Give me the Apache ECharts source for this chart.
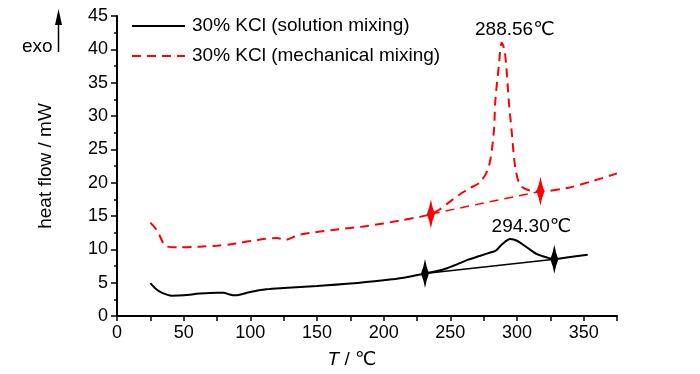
<!DOCTYPE html>
<html>
<head>
<meta charset="utf-8">
<script src="https://cdn.jsdelivr.net/npm/echarts@6/dist/echarts.min.js"></script>
<style>html,body{margin:0;padding:0;background:#fff}#c{width:700px;height:374px}</style>
</head>
<body>
<div id="c"></div>
<script>
// ---- data ----
const seriesNames = ['30% KCl (solution mixing)', '30% KCl (mechanical mixing)'];

const tempSolution = [25, 29, 33.5, 41, 50, 62, 75, 80, 84, 88.6, 92, 100, 112, 125, 150, 175, 200, 215, 231, 240, 247.5, 255, 262.5, 272.5, 280, 284, 289, 295, 300, 307.5, 315, 322.5, 328, 340, 353];
const heatSolution = [4.92, 4.1, 3.5, 3.05, 3.1, 3.36, 3.5, 3.5, 3.26, 3.1, 3.2, 3.6, 4.0, 4.2, 4.5, 4.87, 5.37, 5.75, 6.37, 6.75, 7.17, 7.75, 8.38, 9.03, 9.53, 9.78, 10.79, 11.54, 11.29, 10.28, 9.28, 8.78, 8.53, 8.85, 9.18];

const tempMech = [25, 29.8, 37.3, 47, 62, 75, 87, 90, 105, 120, 126, 137, 162, 187.5, 212, 227.5, 235.4, 242.5, 250, 257.5, 265, 272.5, 278.7, 282.5, 283.8, 286.3, 288.56, 290.5, 292, 293.8, 296.2, 298.7, 302.5, 310, 317.6, 337.6, 357.7, 375];
const heatMech = [14.0, 12.9, 10.43, 10.3, 10.4, 10.55, 10.8, 10.9, 11.4, 11.7, 11.4, 12.2, 12.9, 13.5, 14.3, 14.9, 15.3, 16.05, 17.2, 18.3, 19.2, 20.1, 22.3, 27.3, 32.4, 37.4, 41.0, 40.0, 37.4, 32.4, 27.3, 22.3, 19.6, 18.8, 18.7, 19.2, 20.3, 21.4];

// baseline / onset markers
const solutionMarkerT = [231, 328];
const solutionMarkerV = [6.37, 8.53];
const mechMarkerT = [235.4, 317.6];
const mechMarkerV = [15.3, 18.7];

// peak annotations
const peakLabels = ['288.56\u2103', '294.30\u2103'];
const peakT = [288.56, 295];
const peakV = [41.0, 11.54];

const xTicks = [0, 50, 100, 150, 200, 250, 300, 350];

// ---- build ----
const FONT = "'Liberation Sans', Arial, 'DejaVu Sans', sans-serif";
const TICK = 18, TXT = 19;
const zip = (a, b) => a.map((v, i) => [v, b[i]]);
const spindle = 'path://M5,0 L7,10 L10,20 L7,30 L5,40 L3,30 L0,20 L3,10 Z';
const labelOffsets = [[13, 0], [21, 0]];

const chart = echarts.init(document.getElementById('c'), null, {renderer: 'canvas'});
chart.setOption({
  animation: false,
  backgroundColor: '#fff',
  grid: {left: 117, right: 83, top: 16, bottom: 58, containLabel: false},
  legend: {
    data: seriesNames,
    orient: 'vertical',
    left: 131, top: 16,
    padding: 0,
    itemWidth: 53, itemHeight: 14, itemGap: 10,
    itemStyle: {opacity: 0},
    textStyle: {fontFamily: FONT, fontSize: TXT, color: '#000', lineHeight: 20, padding: [0, 0, 0, 2]},
    selectedMode: false
  },
  xAxis: {
    type: 'value', min: 0, max: 375, interval: 25,
    name: '{i|T} / \u2103',
    nameLocation: 'middle', nameGap: 34,
    nameTextStyle: {fontFamily: FONT, fontSize: TXT, color: '#000', padding: [0, 30, 0, 0],
      rich: {i: {fontFamily: FONT, fontSize: TXT, fontStyle: 'italic', color: '#000'}}},
    axisLine: {lineStyle: {color: '#000', width: 2}},
    axisTick: {length: 5, lineStyle: {color: '#000', width: 1.5}},
    axisLabel: {fontFamily: FONT, fontSize: TICK, color: '#000', margin: 8,
      formatter: v => xTicks.indexOf(v) >= 0 ? String(v) : ''},
    splitLine: {show: false}
  },
  yAxis: {
    type: 'value', min: 0, max: 45, interval: 5,
    name: 'heat flow / mW',
    nameLocation: 'middle', nameGap: 62,
    nameTextStyle: {fontFamily: FONT, fontSize: TXT, color: '#000'},
    axisLine: {show: true, lineStyle: {color: '#000', width: 2}},
    axisTick: {show: true, length: 6, lineStyle: {color: '#000', width: 1.5}},
    minorTick: {show: true, splitNumber: 2, length: 3, lineStyle: {color: '#000', width: 1.5}},
    axisLabel: {fontFamily: FONT, fontSize: TICK, color: '#000', margin: 9},
    splitLine: {show: false}
  },
  series: [
    {
      name: seriesNames[0], type: 'line', data: zip(tempSolution, heatSolution),
      symbol: 'none', smooth: 0.3, color: '#000',
      lineStyle: {color: '#000', width: 2}, z: 3
    },
    {
      name: seriesNames[1], type: 'line', data: zip(tempMech, heatMech),
      symbol: 'none', smooth: 0.3, color: '#ff0000',
      lineStyle: {color: '#ff0000', width: 2, type: [9, 6]}, z: 3
    },
    {
      name: 'solution baseline', type: 'line', data: zip(solutionMarkerT, solutionMarkerV),
      symbol: 'none', lineStyle: {color: '#000', width: 1.5}, z: 2
    },
    {
      name: 'mechanical baseline', type: 'line', data: zip(mechMarkerT, mechMarkerV),
      symbol: 'none', lineStyle: {color: '#ff0000', width: 1.5, type: [9, 6]}, z: 2
    },
    {
      name: 'solution markers', type: 'scatter', data: zip(solutionMarkerT, solutionMarkerV),
      symbol: spindle, symbolSize: [8, 29], itemStyle: {color: '#000', opacity: 1}, z: 5
    },
    {
      name: 'mechanical markers', type: 'scatter', data: zip(mechMarkerT, mechMarkerV),
      symbol: spindle, symbolSize: [8, 29], itemStyle: {color: '#ff0000', opacity: 1}, z: 5
    },
    {
      name: 'peak labels', type: 'scatter', symbolSize: 0,
      itemStyle: {opacity: 1},
      data: peakT.map((t, i) => ({value: [t, peakV[i]], name: peakLabels[i], label: {offset: labelOffsets[i]}})),
      label: {
        show: true, position: 'top', distance: 3,
        fontFamily: FONT, fontSize: TXT, color: '#000',
        formatter: p => p.name
      },
      z: 6
    }
  ],
  graphic: [
    {type: 'text', left: 22, top: 37, style: {text: 'exo', font: TXT + 'px ' + FONT, fill: '#000'}},
    {type: 'line', shape: {x1: 58.5, y1: 52, x2: 58.5, y2: 20}, style: {stroke: '#000', lineWidth: 1.5}},
    {type: 'polygon', shape: {points: [[58.5, 9], [55, 25], [62, 25]]}, style: {fill: '#000'}}
  ]
});
</script>
</body>
</html>
